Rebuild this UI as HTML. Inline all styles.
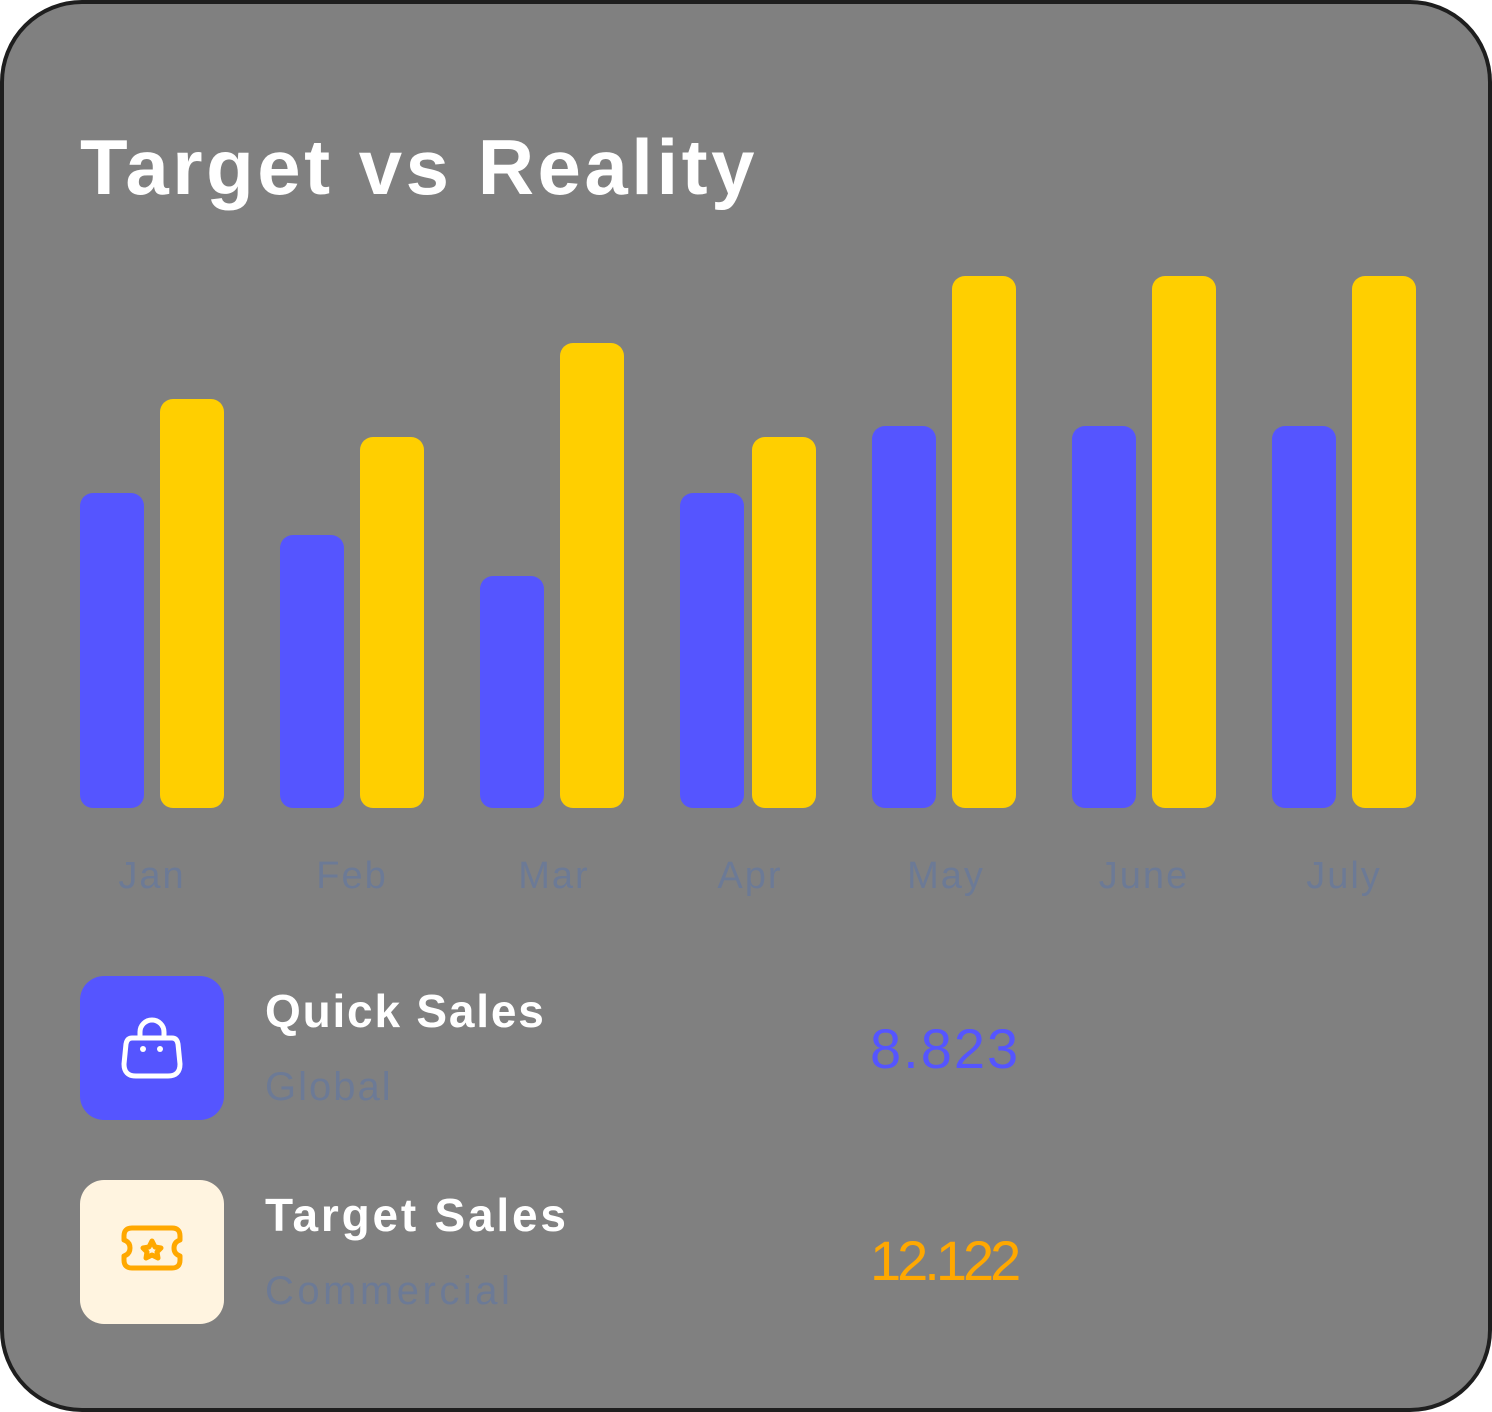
<!DOCTYPE html>
<html><head><style>
body{margin:0;width:1492px;height:1412px;background:#fff;position:relative;font-family:"Liberation Sans",sans-serif;overflow:hidden}
.card{position:absolute;left:0;top:0;width:1484px;height:1404px;border:4px solid #1e1e1e;border-radius:82px;background:#808080}
.b{position:absolute;width:64px;border-radius:13px;bottom:604px}
.bl{background:#5555ff}.yl{background:#ffcf00}
.m{position:absolute;top:855px;font-size:38px;color:#6c7a96;width:120px;text-align:center;letter-spacing:2px}
.t{position:absolute;color:#fff;font-weight:bold}
</style></head><body>
<div class="card"></div>
<div class="t" style="left:80px;top:122px;font-size:78px;letter-spacing:3.5px">Target vs Reality</div>
<div class="b bl" style="left:80px;top:493px"></div><div class="b yl" style="left:160px;top:399px"></div>
<div class="b bl" style="left:280px;top:535px"></div><div class="b yl" style="left:360px;top:437px"></div>
<div class="b bl" style="left:480px;top:576px"></div><div class="b yl" style="left:560px;top:343px"></div>
<div class="b bl" style="left:680px;top:493px"></div><div class="b yl" style="left:752px;top:437px"></div>
<div class="b bl" style="left:872px;top:426px"></div><div class="b yl" style="left:952px;top:276px"></div>
<div class="b bl" style="left:1072px;top:426px"></div><div class="b yl" style="left:1152px;top:276px"></div>
<div class="b bl" style="left:1272px;top:426px"></div><div class="b yl" style="left:1352px;top:276px"></div>
<div class="m" style="left:92px">Jan</div><div class="m" style="left:292px">Feb</div><div class="m" style="left:494px">Mar</div><div class="m" style="left:690px">Apr</div><div class="m" style="left:886px">May</div><div class="m" style="left:1084px">June</div><div class="m" style="left:1284px">July</div>
<div style="position:absolute;left:80px;top:976px;width:144px;height:144px;border-radius:24px;background:#5555ff">
<svg width="144" height="144" viewBox="0 0 144 144"><g fill="none" stroke="#fff" stroke-width="5" stroke-linecap="round"><path d="M60 62v-6a12 12 0 0 1 24 0v6"/><path d="M52 62h40q5 0 6 6l2 20q0 12-12 12h-32q-12 0-12-12l2-20q1-6 6-6z"/></g><circle cx="63" cy="73" r="3" fill="#fff"/><circle cx="80" cy="73" r="3" fill="#fff"/></svg></div>
<div style="position:absolute;left:80px;top:1180px;width:144px;height:144px;border-radius:24px;background:#fff4e0">
<svg width="144" height="144" viewBox="0 0 144 144"><g fill="none" stroke="#ffa800" stroke-width="5" stroke-linejoin="round"><path d="M52 48h40q8 0 8 8v4q-6 2-6 8t6 8v4q0 8-8 8h-40q-8 0-8-8v-4q6-2 6-8t-6-8v-4q0-8 8-8z"/><path d="M72 61l3 6 6 1-4 4 1 6-6-3-6 3 1-6-4-4 6-1z"/></g></svg></div>
<div class="t" style="left:265px;top:984px;font-size:46px;letter-spacing:1.8px">Quick Sales</div>
<div style="position:absolute;left:265px;top:1065px;font-size:40px;color:#6c7a96;letter-spacing:2px">Global</div>
<div style="position:absolute;left:870px;top:1016px;font-size:56px;color:#5555ff;letter-spacing:2px">8.823</div>
<div class="t" style="left:265px;top:1188px;font-size:46px;letter-spacing:2.8px">Target Sales</div>
<div style="position:absolute;left:265px;top:1269px;font-size:40px;color:#6c7a96;letter-spacing:3.5px">Commercial</div>
<div style="position:absolute;left:870px;top:1228px;font-size:56px;color:#ffa800;letter-spacing:-4px">12.122</div>
</body></html>
